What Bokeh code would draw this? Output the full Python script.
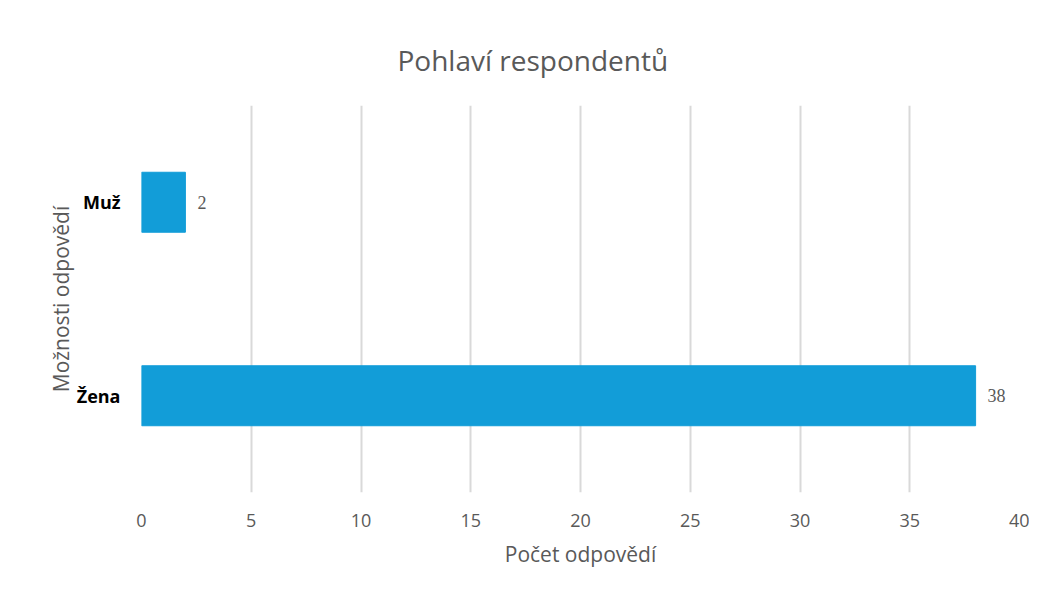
from bokeh.plotting import figure
from bokeh.models import ColumnDataSource, LabelSet, FixedTicker
from bokeh.embed import file_html
from bokeh.resources import INLINE

categories = ["Žena", "Muž"]
counts = [38, 2]
x_ticks = [0, 5, 10, 15, 20, 25, 30, 35, 40]

FONT = "Open Sans"
GRAY = "#595959"

src = ColumnDataSource(dict(cat=categories, val=counts, lab=[str(v) for v in counts]))

p = figure(width=1029, height=579, y_range=categories, x_range=(0, 40),
           output_backend="svg", toolbar_location=None,
           min_border_left=141, min_border_right=10, min_border_top=105, min_border_bottom=87)
p.outline_line_color = None

p.title.text = "Pohlaví respondentů"
p.title.align = "left"
p.title.offset = 256
p.title.text_font = FONT
p.title.text_font_size = "28px"
p.title.text_font_style = "normal"
p.title.text_color = GRAY
p.title.standoff = 54

p.hbar(y="cat", right="val", left=0, height=0.31, source=src, color="#129DD8")

labels = LabelSet(x="val", y="cat", text="lab", source=src, x_offset=12, y_offset=0,
                  text_baseline="middle", text_font=FONT, text_font_size="18px", text_color=GRAY)
p.add_layout(labels)

p.xaxis.ticker = FixedTicker(ticks=x_ticks)
p.xaxis.axis_line_color = None
p.xaxis.major_tick_line_color = None
p.xaxis.minor_tick_line_color = None
p.xaxis.major_label_text_font = FONT
p.xaxis.major_label_text_font_size = "18px"
p.xaxis.major_label_text_color = GRAY
p.xaxis.major_label_standoff = 15
p.xaxis.axis_label = "Počet odpovědí"
p.xaxis.axis_label_text_font = FONT
p.xaxis.axis_label_text_font_size = "21px"
p.xaxis.axis_label_text_font_style = "normal"
p.xaxis.axis_label_text_color = GRAY
p.xaxis.axis_label_standoff = 10

p.yaxis.axis_line_color = None
p.yaxis.major_tick_line_color = None
p.yaxis.minor_tick_line_color = None
p.yaxis.major_label_text_font = FONT
p.yaxis.major_label_text_font_size = "18px"
p.yaxis.major_label_text_font_style = "bold"
p.yaxis.major_label_text_color = "#000000"
p.yaxis.major_label_standoff = 15
p.yaxis.axis_label = "Možnosti odpovědí"
p.yaxis.axis_label_text_font = FONT
p.yaxis.axis_label_text_font_size = "21px"
p.yaxis.axis_label_text_font_style = "normal"
p.yaxis.axis_label_text_color = GRAY
p.yaxis.axis_label_standoff = -1

p.xgrid.grid_line_color = "#d9d9d9"
p.xgrid.grid_line_width = 2
p.ygrid.grid_line_color = None

out = file_html(p, INLINE)
open("out.html", "w").write(out)
